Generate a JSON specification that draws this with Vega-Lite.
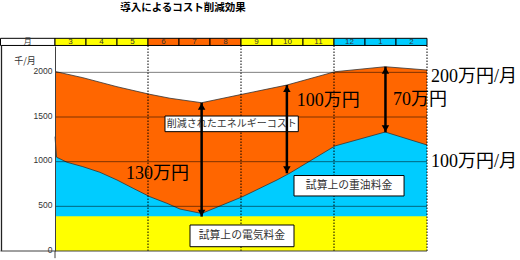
{
  "$schema": "https://vega.github.io/schema/vega-lite/v6.json",
  "width": 372,
  "height": 205,
  "autosize": {"type": "none"},
  "padding": {"left": 55, "top": 46, "right": 93, "bottom": 9},
  "background": "white",
  "config": {"view": {"stroke": null}},
  "datasets": {
    "total": [
      {"u": 0, "v": 2010}, {"u": 0.9, "v": 1940}, {"u": 2.0, "v": 1839}, {"u": 3.06, "v": 1754},
      {"u": 3.71, "v": 1710}, {"u": 4.73, "v": 1660}, {"u": 6.03, "v": 1754}, {"u": 7.48, "v": 1858},
      {"u": 9.03, "v": 2007}, {"u": 10.65, "v": 2063}, {"u": 12, "v": 2026}
    ],
    "oil": [
      {"u": 0, "v": 1280}, {"u": 0.05, "v": 1050}, {"u": 0.39, "v": 993}, {"u": 0.9, "v": 944},
      {"u": 1.45, "v": 881}, {"u": 2.0, "v": 795}, {"u": 2.52, "v": 702}, {"u": 3.06, "v": 608},
      {"u": 3.61, "v": 534}, {"u": 4.03, "v": 470}, {"u": 4.73, "v": 420}, {"u": 6.03, "v": 605},
      {"u": 7.16, "v": 795}, {"u": 7.58, "v": 873}, {"u": 9.03, "v": 1176}, {"u": 10.65, "v": 1332},
      {"u": 12, "v": 1187}
    ],
    "elec": [{"u": 0, "v": 390}, {"u": 12, "v": 390}],
    "grid": [{"v": 500}, {"v": 1000}, {"v": 1500}, {"v": 2000}],
    "seasons": [{"u": 3}, {"u": 6}, {"u": 9}, {"u": 12}],
    "months": [
      {"m": "月", "u": -1.758, "u1": 0, "mid": -0.879, "season": "head"},
      {"m": "3", "u": 0, "u1": 1, "mid": 0.5, "season": "spring"},
      {"m": "4", "u": 1, "u1": 2, "mid": 1.5, "season": "spring"},
      {"m": "5", "u": 2, "u1": 3, "mid": 2.5, "season": "spring"},
      {"m": "6", "u": 3, "u1": 4, "mid": 3.5, "season": "summer"},
      {"m": "7", "u": 4, "u1": 5, "mid": 4.5, "season": "summer"},
      {"m": "8", "u": 5, "u1": 6, "mid": 5.5, "season": "summer"},
      {"m": "9", "u": 6, "u1": 7, "mid": 6.5, "season": "autumn"},
      {"m": "10", "u": 7, "u1": 8, "mid": 7.5, "season": "autumn"},
      {"m": "11", "u": 8, "u1": 9, "mid": 8.5, "season": "autumn"},
      {"m": "12", "u": 9, "u1": 10, "mid": 9.5, "season": "winter"},
      {"m": "1", "u": 10, "u1": 11, "mid": 10.5, "season": "winter"},
      {"m": "2", "u": 11, "u1": 12, "mid": 11.5, "season": "winter"}
    ],
    "boxes": [
      {"label": "削減されたエネルギーコスト", "kind": "cost", "u": 3.548, "u1": 7.848, "v": 1336, "v1": 1511, "cu": 5.698, "cv": 1424},
      {"label": "試算上の重油料金", "kind": "fee", "u": 7.71, "u1": 11.26, "v": 616, "v1": 845, "cu": 9.485, "cv": 730},
      {"label": "試算上の電気料金", "kind": "fee", "u": 4.355, "u1": 7.71, "v": 48, "v1": 291, "cu": 6.03, "cv": 170}
    ],
    "arrows": [
      {"u": 4.73, "v": 1660, "v1": 385},
      {"u": 7.48, "v": 1858, "v1": 870},
      {"u": 10.66, "v": 2063, "v1": 1329}
    ],
    "bigLabels": [
      {"label": "130万円", "u": 2.29, "v": 862},
      {"label": "100万円", "u": 7.8, "v": 1674},
      {"label": "70万円", "u": 10.9, "v": 1685},
      {"label": "200万円/月", "u": 12.13, "v": 1948},
      {"label": "100万円/月", "u": 12.13, "v": 991}
    ],
    "title": [{"label": "導入によるコスト削減効果", "u": 4.13, "v": 2718}],
    "unit": [{"label": "千/月", "u": -0.968, "v": 2127}]
  },
  "layer": [
    {
      "data": {"name": "total"},
      "mark": {"type": "area", "color": "#FF6600", "opacity": 1},
      "encoding": {
        "x": {"field": "u", "type": "quantitative", "scale": {"domain": [0, 12], "nice": false, "zero": false}, "axis": null},
        "y": {"field": "v", "type": "quantitative", "scale": {"domain": [0, 2295], "nice": false, "zero": false},
          "axis": {"values": [0, 500, 1000, 1500, 2000], "format": "d", "grid": false, "ticks": false, "domain": true, "domainColor": "#404040", "domainWidth": 1, "labelFontSize": 8.5, "labelFont": "Liberation Sans", "labelColor": "#333333", "labelPadding": 3, "labelOffset": -2, "title": null, "zindex": 1}}
      }
    },
    {
      "data": {"name": "oil"},
      "mark": {"type": "area", "color": "#00CCFF", "opacity": 1},
      "encoding": {"x": {"field": "u", "type": "quantitative"}, "y": {"field": "v", "type": "quantitative"}}
    },
    {
      "data": {"name": "elec"},
      "mark": {"type": "area", "color": "#FFFF00", "opacity": 1},
      "encoding": {"x": {"field": "u", "type": "quantitative"}, "y": {"field": "v", "type": "quantitative"}}
    },
    {
      "data": {"name": "total"},
      "mark": {"type": "line", "color": "#333333", "strokeWidth": 0.8},
      "encoding": {"x": {"field": "u", "type": "quantitative"}, "y": {"field": "v", "type": "quantitative"}}
    },
    {
      "data": {"name": "oil"},
      "mark": {"type": "line", "color": "#333333", "strokeWidth": 0.8},
      "encoding": {"x": {"field": "u", "type": "quantitative"}, "y": {"field": "v", "type": "quantitative"}}
    },
    {
      "data": {"name": "grid"},
      "mark": {"type": "rule", "color": "#000000", "opacity": 0.5, "strokeWidth": 1},
      "encoding": {"y": {"field": "v", "type": "quantitative"}, "x": {"datum": 0}, "x2": {"datum": 12}}
    },
    {
      "data": {"name": "seasons"},
      "mark": {"type": "rule", "color": "#000000", "strokeWidth": 1, "strokeDash": [1.5, 1.5]},
      "encoding": {"x": {"field": "u", "type": "quantitative"}, "y": {"datum": 0}, "y2": {"datum": 2301}}
    },
    {
      "data": {"name": "months"},
      "mark": {"type": "rect", "stroke": "#000000", "strokeWidth": 1},
      "encoding": {
        "x": {"field": "u", "type": "quantitative"}, "x2": {"field": "u1"},
        "y": {"datum": 2301}, "y2": {"datum": 2381},
        "color": {"field": "season", "type": "nominal", "legend": null,
          "scale": {"domain": ["head", "spring", "summer", "autumn", "winter"], "range": ["#ffffff", "#ffff00", "#ff6600", "#ffff00", "#00ccff"]}}
      }
    },
    {
      "data": {"name": "months"},
      "mark": {"type": "text", "fontSize": 8, "font": "Liberation Sans, Noto Sans CJK JP", "color": "#333333", "baseline": "middle", "align": "center"},
      "encoding": {"x": {"field": "mid", "type": "quantitative"}, "y": {"datum": 2340}, "text": {"field": "m"}}
    },
    {
      "data": {"values": [{"u": -1.726}]},
      "mark": {"type": "rule", "color": "#222222", "strokeWidth": 1.3},
      "encoding": {"x": {"field": "u", "type": "quantitative"}, "y": {"datum": 0}, "y2": {"datum": 2301}}
    },
    {
      "data": {"values": [{"v": 0}]},
      "mark": {"type": "rule", "color": "#404040", "strokeWidth": 1},
      "encoding": {"y": {"field": "v", "type": "quantitative"}, "x": {"datum": -1.758}, "x2": {"datum": 12}}
    },
    {
      "data": {"values": [{"u": 0}]},
      "mark": {"type": "rule", "color": "#404040", "strokeWidth": 1},
      "encoding": {"x": {"field": "u", "type": "quantitative"}, "y": {"datum": 0}, "y2": {"datum": -80}}
    },
    {
      "data": {"name": "boxes"},
      "mark": {"type": "rect", "fill": "#ffffff", "stroke": "#000000", "strokeWidth": 1},
      "encoding": {"x": {"field": "u", "type": "quantitative"}, "x2": {"field": "u1"}, "y": {"field": "v", "type": "quantitative"}, "y2": {"field": "v1"}}
    },
    {
      "data": {"name": "boxes"},
      "transform": [{"filter": "datum.kind == 'cost'"}],
      "mark": {"type": "text", "fontSize": 10, "font": "Noto Sans CJK JP", "color": "#333333", "baseline": "middle", "align": "center"},
      "encoding": {"x": {"field": "cu", "type": "quantitative"}, "y": {"field": "cv", "type": "quantitative"}, "text": {"field": "label"}}
    },
    {
      "data": {"name": "boxes"},
      "transform": [{"filter": "datum.kind == 'fee'"}],
      "mark": {"type": "text", "fontSize": 10.8, "font": "Noto Sans CJK JP", "color": "#333333", "baseline": "middle", "align": "center"},
      "encoding": {"x": {"field": "cu", "type": "quantitative"}, "y": {"field": "cv", "type": "quantitative"}, "text": {"field": "label"}}
    },
    {
      "data": {"name": "arrows"},
      "mark": {"type": "rule", "color": "#000000", "strokeWidth": 2.5},
      "encoding": {"x": {"field": "u", "type": "quantitative"}, "y": {"field": "v", "type": "quantitative"}, "y2": {"field": "v1"}}
    },
    {
      "data": {"name": "arrows"},
      "mark": {"type": "point", "shape": "triangle-up", "filled": true, "color": "#000000", "size": 56, "opacity": 1, "yOffset": 3.7},
      "encoding": {"x": {"field": "u", "type": "quantitative"}, "y": {"field": "v", "type": "quantitative"}}
    },
    {
      "data": {"name": "arrows"},
      "mark": {"type": "point", "shape": "triangle-down", "filled": true, "color": "#000000", "size": 56, "opacity": 1, "yOffset": -3.7},
      "encoding": {"x": {"field": "u", "type": "quantitative"}, "y": {"field": "v1", "type": "quantitative"}}
    },
    {
      "data": {"name": "bigLabels"},
      "mark": {"type": "text", "fontSize": 18, "font": "Liberation Serif, Noto Sans CJK JP", "color": "#000000", "baseline": "middle", "align": "left"},
      "encoding": {"x": {"field": "u", "type": "quantitative"}, "y": {"field": "v", "type": "quantitative"}, "text": {"field": "label"}}
    },
    {
      "data": {"name": "title"},
      "mark": {"type": "text", "fontSize": 10.5, "fontWeight": "bold", "font": "Noto Sans CJK JP", "color": "#000000", "baseline": "middle", "align": "center"},
      "encoding": {"x": {"field": "u", "type": "quantitative"}, "y": {"field": "v", "type": "quantitative"}, "text": {"field": "label"}}
    },
    {
      "data": {"name": "unit"},
      "mark": {"type": "text", "fontSize": 9, "font": "Noto Sans CJK JP", "color": "#333333", "baseline": "middle", "align": "center"},
      "encoding": {"x": {"field": "u", "type": "quantitative"}, "y": {"field": "v", "type": "quantitative"}, "text": {"field": "label"}}
    }
  ]
}
